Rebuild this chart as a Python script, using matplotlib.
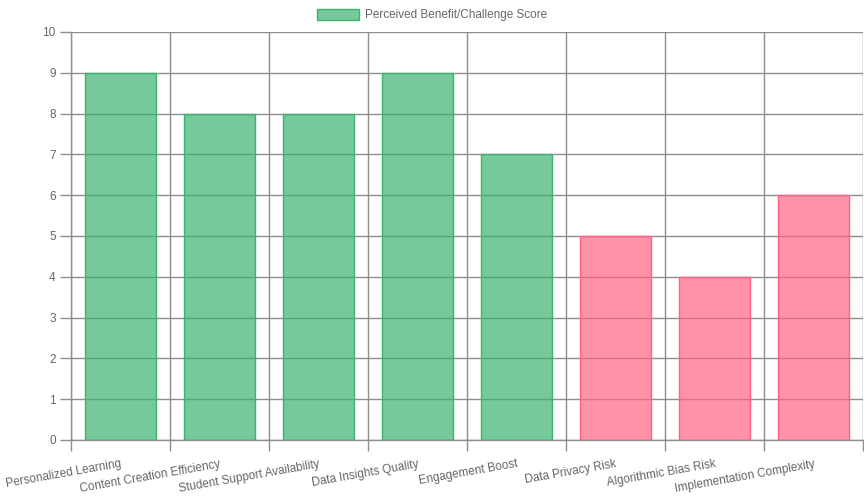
import matplotlib

matplotlib.use("Agg")
import matplotlib.pyplot as plt
from matplotlib.patches import Patch

categories = [
    "Personalized Learning",
    "Content Creation Efficiency",
    "Student Support Availability",
    "Data Insights Quality",
    "Engagement Boost",
    "Data Privacy Risk",
    "Algorithmic Bias Risk",
    "Implementation Complexity",
]
scores = [9, 8, 8, 9, 7, 5, 4, 6]
is_benefit = [True, True, True, True, True, False, False, False]
series_label = "Perceived Benefit/Challenge Score"

green_fill = (60 / 255, 179 / 255, 113 / 255, 0.7)
green_edge = (60 / 255, 179 / 255, 113 / 255, 1.0)
pink_fill = (255 / 255, 99 / 255, 132 / 255, 0.7)
pink_edge = (255 / 255, 99 / 255, 132 / 255, 1.0)
grid_color = "#8e8e8e"
text_color = "#666666"

plt.rcParams["font.family"] = ["Liberation Sans", "DejaVu Sans"]

fig = plt.figure(figsize=(8.64, 5.0), dpi=100)
ax = fig.add_axes([71 / 864, 1 - 440 / 500, 792 / 864, 408 / 500])

x = list(range(len(categories)))
fills = [green_fill if b else pink_fill for b in is_benefit]
edges = [green_edge if b else pink_edge for b in is_benefit]
ax.bar(x, scores, width=0.72, color=fills, edgecolor=edges, linewidth=1, zorder=3)

ax.set_xlim(-0.5, len(categories) - 0.5)
ax.set_ylim(0, 10)
ax.set_yticks(range(0, 11))

ax.set_xticks(x)
ax.set_xticklabels(categories, rotation=10, ha="right", rotation_mode="anchor")
ax.set_xticks([i - 0.5 for i in range(len(categories) + 1)], minor=True)

ax.tick_params(axis="x", which="major", length=0, pad=13, labelsize=8.5, labelcolor=text_color)
ax.tick_params(axis="x", which="minor", length=8, color=grid_color, width=1)
ax.tick_params(axis="y", length=8, color=grid_color, width=1, labelsize=8.5,
               labelcolor=text_color, pad=3)

ax.grid(axis="y", which="major", color=grid_color, linewidth=1, zorder=0)
ax.grid(axis="x", which="minor", color=grid_color, linewidth=1, zorder=0)
ax.set_axisbelow(True)

for side in ["top", "right"]:
    ax.spines[side].set_visible(False)
for side in ["left", "bottom"]:
    ax.spines[side].set_color(grid_color)
    ax.spines[side].set_linewidth(1)

handle = Patch(facecolor=green_fill, edgecolor=green_edge, linewidth=1)
fig.legend(
    [handle],
    [series_label],
    loc="center",
    bbox_to_anchor=(0.5, 1 - 15 / 500),
    frameon=False,
    fontsize=8.5,
    labelcolor=text_color,
    handlelength=3.5,
    handleheight=1.1,
    handletextpad=0.5,
)

fig.savefig("out.png", dpi=100)
